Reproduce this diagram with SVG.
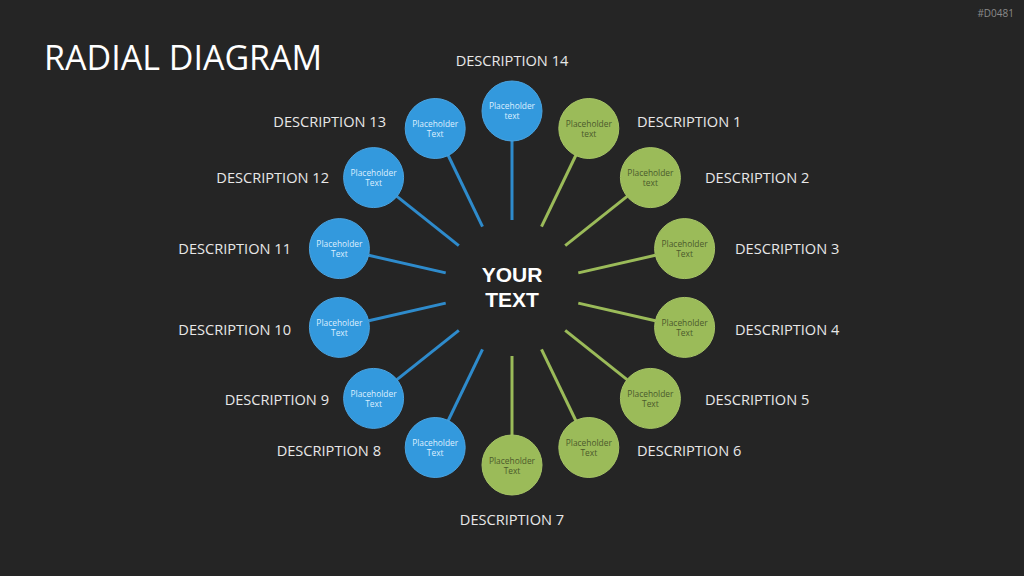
<svg xmlns="http://www.w3.org/2000/svg" width="1024" height="576" viewBox="0 0 1024 576">
<style>
.bg{fill:#252525}
.title{font-family:"Open Sans",sans-serif;font-size:34px;fill:#ffffff}
.desc{font-family:"Open Sans",sans-serif;font-size:14.6px;fill:#e8e8e8}
.code{font-family:"Open Sans",sans-serif;font-size:10px;fill:#8a8a8a}
.blue{fill:#3399dd;stroke:#4aa3e0;stroke-width:1}
.green{fill:#9bbb59;stroke:#a6c466;stroke-width:1}
.bt{font-family:"Open Sans",sans-serif;font-size:8.4px;fill:#dcefff;text-anchor:middle}
.gt{font-family:"Open Sans",sans-serif;font-size:8.4px;fill:#4b5a2c;text-anchor:middle}
.lb{stroke:#2e8bcc;stroke-width:3;stroke-linecap:butt}
.lg{stroke:#9bbb59;stroke-width:3;stroke-linecap:butt}
.center{font-family:"Liberation Sans",Arial,sans-serif;font-size:21px;font-weight:bold;fill:#ffffff;text-anchor:middle}
</style>
<rect class="bg" x="0" y="0" width="1024" height="576"/>
<text class="code" x="1014" y="17" text-anchor="end">#D0481</text>
<text class="title" x="44" y="70">RADIAL DIAGRAM</text>
<g id="connectors">
<line class="lb" x1="512" y1="220" x2="512" y2="141"/>
<line class="lg" x1="541.5" y1="226.7" x2="576" y2="155"/>
<line class="lg" x1="565.2" y1="245.6" x2="627.1" y2="196.3"/>
<line class="lg" x1="578.3" y1="272.9" x2="655.3" y2="255.3"/>
<line class="lg" x1="578.3" y1="303.1" x2="655.3" y2="320.7"/>
<line class="lg" x1="565.2" y1="330.4" x2="627.1" y2="379.7"/>
<line class="lg" x1="541.5" y1="349.3" x2="576" y2="421"/>
<line class="lg" x1="512" y1="356" x2="512" y2="435"/>
<line class="lb" x1="482.5" y1="349.3" x2="448" y2="421"/>
<line class="lb" x1="458.8" y1="330.4" x2="396.9" y2="379.7"/>
<line class="lb" x1="445.7" y1="303.1" x2="368.7" y2="320.7"/>
<line class="lb" x1="445.7" y1="272.9" x2="368.7" y2="255.3"/>
<line class="lb" x1="458.8" y1="245.6" x2="396.9" y2="196.3"/>
<line class="lb" x1="482.5" y1="226.7" x2="448" y2="155"/>
</g>
<g id="center">
<text class="center" x="512" y="282">YOUR<tspan x="512" y="307">TEXT</tspan></text>
</g>
<g id="node14"><circle class="blue" cx="512" cy="111" r="30"/><text class="bt" x="512" y="109">Placeholder<tspan x="512" y="119">text</tspan></text><text class="desc" x="512" y="66" text-anchor="middle">DESCRIPTION 14</text></g>
<g id="node1"><circle class="green" cx="588.8" cy="128.5" r="30"/><text class="gt" x="588.8" y="127">Placeholder<tspan x="588.8" y="137">text</tspan></text><text class="desc" x="637" y="127">DESCRIPTION 1</text></g>
<g id="node2"><circle class="green" cx="650.4" cy="177.6" r="30"/><text class="gt" x="650.4" y="176">Placeholder<tspan x="650.4" y="186">text</tspan></text><text class="desc" x="705" y="183">DESCRIPTION 2</text></g>
<g id="node3"><circle class="green" cx="684.6" cy="248.6" r="30"/><text class="gt" x="684.6" y="247">Placeholder<tspan x="684.6" y="257">Text</tspan></text><text class="desc" x="735" y="254">DESCRIPTION 3</text></g>
<g id="node4"><circle class="green" cx="684.6" cy="327.4" r="30"/><text class="gt" x="684.6" y="326">Placeholder<tspan x="684.6" y="336">Text</tspan></text><text class="desc" x="735" y="335">DESCRIPTION 4</text></g>
<g id="node5"><circle class="green" cx="650.4" cy="398.4" r="30"/><text class="gt" x="650.4" y="397">Placeholder<tspan x="650.4" y="407">Text</tspan></text><text class="desc" x="705" y="405">DESCRIPTION 5</text></g>
<g id="node6"><circle class="green" cx="588.8" cy="447.5" r="30"/><text class="gt" x="588.8" y="446">Placeholder<tspan x="588.8" y="456">Text</tspan></text><text class="desc" x="637" y="456">DESCRIPTION 6</text></g>
<g id="node7"><circle class="green" cx="512" cy="465" r="30"/><text class="gt" x="512" y="464">Placeholder<tspan x="512" y="474">Text</tspan></text><text class="desc" x="512" y="525" text-anchor="middle">DESCRIPTION 7</text></g>
<g id="node8"><circle class="blue" cx="435.2" cy="447.5" r="30"/><text class="bt" x="435.2" y="446">Placeholder<tspan x="435.2" y="456">Text</tspan></text><text class="desc" x="381" y="456" text-anchor="end">DESCRIPTION 8</text></g>
<g id="node9"><circle class="blue" cx="373.6" cy="398.4" r="30"/><text class="bt" x="373.6" y="397">Placeholder<tspan x="373.6" y="407">Text</tspan></text><text class="desc" x="329" y="405" text-anchor="end">DESCRIPTION 9</text></g>
<g id="node10"><circle class="blue" cx="339.4" cy="327.4" r="30"/><text class="bt" x="339.4" y="326">Placeholder<tspan x="339.4" y="336">Text</tspan></text><text class="desc" x="291" y="335" text-anchor="end">DESCRIPTION 10</text></g>
<g id="node11"><circle class="blue" cx="339.4" cy="248.6" r="30"/><text class="bt" x="339.4" y="247">Placeholder<tspan x="339.4" y="257">Text</tspan></text><text class="desc" x="291" y="254" text-anchor="end">DESCRIPTION 11</text></g>
<g id="node12"><circle class="blue" cx="373.6" cy="177.6" r="30"/><text class="bt" x="373.6" y="176">Placeholder<tspan x="373.6" y="186">Text</tspan></text><text class="desc" x="329" y="183" text-anchor="end">DESCRIPTION 12</text></g>
<g id="node13"><circle class="blue" cx="435.2" cy="128.5" r="30"/><text class="bt" x="435.2" y="127">Placeholder<tspan x="435.2" y="137">Text</tspan></text><text class="desc" x="386" y="127" text-anchor="end">DESCRIPTION 13</text></g>
</svg>
